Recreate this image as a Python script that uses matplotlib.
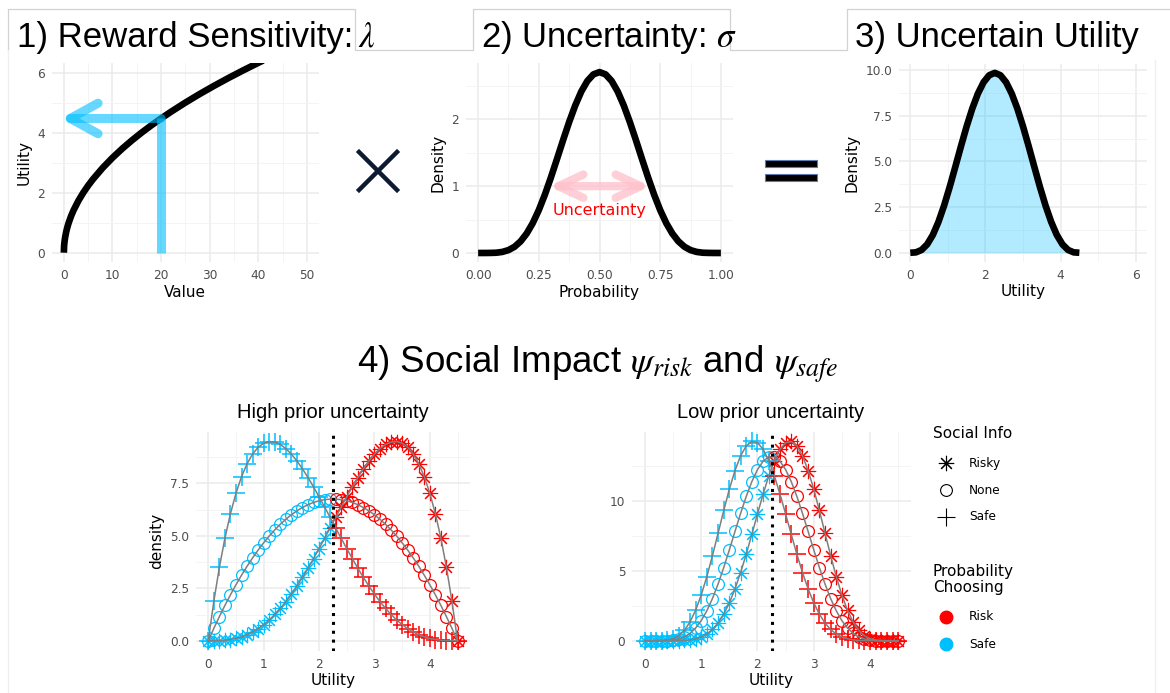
import numpy as np
import matplotlib.pyplot as plt
from matplotlib.patches import Rectangle

plt.rcParams['mathtext.fontset'] = 'stix'

W, H = 1170, 693

# ---- data -------------------------------------------------------------
# 1) reward sensitivity: utility of a value
value = [0, 0.05, 0.1, 0.25, 0.5, 0.75, 1, 1.5, 2, 3, 4, 5, 6, 8, 10, 12, 14,
         16, 18, 20, 22, 25, 28, 31, 34, 37, 40, 41]
utility_of_value = [0, 0.224, 0.316, 0.5, 0.707, 0.866, 1.0, 1.225, 1.414, 1.732,
                    2.0, 2.236, 2.449, 2.828, 3.162, 3.464, 3.742, 4.0, 4.243,
                    4.472, 4.690, 5.0, 5.292, 5.568, 5.831, 6.083, 6.325, 6.403]
example_value = 20
example_utility = 4.472

# 2) uncertainty about the probability
probability = [0, 0.025, 0.05, 0.075, 0.1, 0.125, 0.15, 0.175, 0.2, 0.225, 0.25,
               0.275, 0.3, 0.325, 0.35, 0.375, 0.4, 0.425, 0.45, 0.475, 0.5,
               0.525, 0.55, 0.575, 0.6, 0.625, 0.65, 0.675, 0.7, 0.725, 0.75,
               0.775, 0.8, 0.825, 0.85, 0.875, 0.9, 0.925, 0.95, 0.975, 1.0]
prob_density = [0, 0, 0.001, 0.004, 0.016, 0.043, 0.093, 0.174, 0.291, 0.447, 0.642,
                0.873, 1.132, 1.408, 1.689, 1.960, 2.207, 2.416, 2.574, 2.673, 2.707,
                2.673, 2.574, 2.416, 2.207, 1.960, 1.689, 1.408, 1.132, 0.873, 0.642,
                0.447, 0.291, 0.174, 0.093, 0.043, 0.016, 0.004, 0.001, 0, 0]
spread_lo, spread_hi, spread_level = 0.29, 0.71, 1.0

# 3) uncertain utility
utility3 = [0, 0.15, 0.3, 0.45, 0.6, 0.75, 0.9, 1.05, 1.2, 1.35, 1.5, 1.65, 1.8,
            1.95, 2.1, 2.25, 2.4, 2.55, 2.7, 2.85, 3.0, 3.15, 3.3, 3.45, 3.6,
            3.75, 3.9, 4.05, 4.2, 4.35, 4.5]
utility3_density = [0, 0.021, 0.152, 0.459, 0.972, 1.688, 2.580, 3.606, 4.711, 5.834,
                    6.914, 7.889, 8.709, 9.328, 9.713, 9.844, 9.713, 9.328, 8.709,
                    7.889, 6.914, 5.834, 4.711, 3.606, 2.580, 1.688, 0.972, 0.459,
                    0.152, 0.021, 0]

# 4) social impact
utility = [0.0, 0.1, 0.2, 0.3, 0.4, 0.5, 0.6, 0.7, 0.8, 0.9, 1.0, 1.1, 1.2, 1.3, 1.4,
           1.5, 1.6, 1.7, 1.8, 1.9, 2.0, 2.1, 2.2, 2.3, 2.4, 2.5, 2.6, 2.7, 2.8, 2.9,
           3.0, 3.1, 3.2, 3.3, 3.4, 3.5, 3.6, 3.7, 3.8, 3.9, 4.0, 4.1, 4.2, 4.3, 4.4, 4.5]
high_none = [0, 0.587, 1.147, 1.68, 2.187, 2.667, 3.12, 3.547, 3.947, 4.32, 4.667,
             4.987, 5.28, 5.547, 5.787, 6.0, 6.187, 6.347, 6.48, 6.587, 6.667, 6.72,
             6.747, 6.747, 6.72, 6.667, 6.587, 6.48, 6.347, 6.187, 6.0, 5.787, 5.547,
             5.28, 4.987, 4.667, 4.32, 3.947, 3.547, 3.12, 2.667, 2.187, 1.68, 1.147,
             0.587, 0]
high_safe = [0, 1.870, 3.490, 4.878, 6.051, 7.023, 7.812, 8.430, 8.894, 9.216, 9.410,
             9.489, 9.465, 9.349, 9.154, 8.889, 8.565, 8.191, 7.776, 7.329, 6.859,
             6.372, 5.875, 5.375, 4.878, 4.390, 3.914, 3.456, 3.019, 2.607, 2.222,
             1.867, 1.543, 1.252, 0.993, 0.768, 0.576, 0.416, 0.286, 0.185, 0.110,
             0.058, 0.025, 0.008, 0.001, 0]
high_risky = [0, 0.001, 0.008, 0.025, 0.058, 0.110, 0.185, 0.286, 0.416, 0.576, 0.768,
              0.993, 1.252, 1.543, 1.867, 2.222, 2.607, 3.019, 3.456, 3.914, 4.390,
              4.878, 5.375, 5.875, 6.372, 6.859, 7.329, 7.776, 8.191, 8.565, 8.889,
              9.154, 9.349, 9.465, 9.489, 9.410, 9.216, 8.894, 8.430, 7.812, 7.023,
              6.051, 4.878, 3.490, 1.870, 0]
low_none = [0, 0, 0, 0.003, 0.015, 0.050, 0.129, 0.278, 0.527, 0.907, 1.441, 2.145,
            3.023, 4.063, 5.239, 6.510, 7.823, 9.118, 10.330, 11.393, 12.248, 12.850,
            13.158, 13.158, 12.850, 12.248, 11.393, 10.330, 9.118, 7.823, 6.510, 5.239,
            4.063, 3.023, 2.145, 1.441, 0.907, 0.527, 0.278, 0.129, 0.050, 0.015,
            0.003, 0, 0, 0]
low_safe = [0, 0, 0.001, 0.010, 0.047, 0.149, 0.362, 0.743, 1.337, 2.177, 3.269, 4.593,
            6.097, 7.704, 9.323, 10.849, 12.183, 13.238, 13.945, 14.262, 14.176,
            13.706, 12.890, 11.793, 10.494, 9.073, 7.616, 6.198, 4.880, 3.709, 2.712,
            1.901, 1.272, 0.806, 0.481, 0.267, 0.136, 0.062, 0.025, 0.009, 0.002,
            0, 0, 0, 0, 0]
low_risky = [0, 0, 0, 0, 0, 0.002, 0.009, 0.025, 0.062, 0.136, 0.267, 0.481, 0.806,
             1.272, 1.901, 2.712, 3.709, 4.880, 6.198, 7.616, 9.073, 10.494, 11.793,
             12.890, 13.706, 14.176, 14.262, 13.945, 13.238, 12.183, 10.849, 9.323,
             7.704, 6.097, 4.593, 3.269, 2.177, 1.337, 0.743, 0.362, 0.149, 0.047,
             0.010, 0.001, 0, 0]
social_info = ['Risky', 'None', 'Safe']
choosing = ['Risk', 'Safe']
choice_cut = 2.25

SAFE_COL = '#00bfff'
RISK_COL = '#ff0000'


def px_axes(l, t, r, b):
    # place an axes by its pixel box in the 1170x693 picture
    return fig.add_axes([l / W, 1 - b / H, (r - l) / W, (b - t) / H])


def minimal(ax, xmaj, xmin, ymaj, ymin, xlab=None, ylab=None):
    ax.set_xticks(xmaj)
    ax.set_xticks(xmin, minor=True)
    ax.set_yticks(ymaj)
    ax.set_yticks(ymin, minor=True)
    ax.grid(which='major', color='#ebebeb', lw=1.1)
    ax.grid(which='minor', color='#f2f2f2', lw=0.6)
    ax.set_axisbelow(True)
    for s in ax.spines.values():
        s.set_visible(False)
    ax.tick_params(which='both', length=0, labelsize=8.7, labelcolor='#4d4d4d', pad=5)
    if xlab:
        ax.set_xlabel(xlab, fontsize=11, labelpad=2)
    if ylab:
        ax.set_ylabel(ylab, fontsize=11, labelpad=4)


fig = plt.figure(figsize=(W / 100, H / 100), dpi=100)

# ---- panel 1 ----
ax1 = px_axes(51.7, 63, 319, 262)
ax1.plot(value, utility_of_value, color='black', lw=4.8, solid_capstyle='butt')
ax1.plot([example_value, example_value], [0, example_utility], color=SAFE_COL,
         alpha=0.6, lw=6.5, solid_capstyle='butt')
ax1.annotate('', xy=(-0.6, example_utility), xytext=(example_value, example_utility),
             arrowprops=dict(arrowstyle='->,head_length=1.0,head_width=0.55',
                             color=SAFE_COL, alpha=0.6, lw=6.5, shrinkA=0, shrinkB=0,
                             mutation_scale=20))
ax1.set_xlim(-2.5, 52.5)
ax1.set_ylim(-0.31, 6.32)
minimal(ax1, range(0, 51, 10), range(5, 50, 10), [0, 2, 4, 6], [1, 3, 5],
        'Value', 'Utility')

# ---- panel 2 ----
ax2 = px_axes(466, 63, 733, 262)
ax2.plot(probability, prob_density, color='black', lw=4.8, solid_capstyle='butt')
ax2.annotate('', xy=(spread_lo, spread_level), xytext=(spread_hi, spread_level),
             arrowprops=dict(arrowstyle='<->,head_length=0.9,head_width=0.42',
                             color='#ffc0cb', alpha=0.75, lw=6, shrinkA=0, shrinkB=0,
                             mutation_scale=20))
ax2.text(0.5, 0.64, 'Uncertainty', color='red', fontsize=11.5, ha='center', va='center')
ax2.set_xlim(-0.05, 1.05)
ax2.set_ylim(-0.135, 2.843)
minimal(ax2, [0, 0.25, 0.5, 0.75, 1.0], [0.125, 0.375, 0.625, 0.875], [0, 1, 2],
        [0.5, 1.5, 2.5], 'Probability', 'Density')
ax2.set_xticklabels(['0.00', '0.25', '0.50', '0.75', '1.00'])

# ---- panel 3 ----
ax3 = px_axes(899, 63.8, 1147, 261.7)
ax3.fill_between(utility3, utility3_density, color=SAFE_COL, alpha=0.3, lw=0)
ax3.plot(utility3, utility3_density, color='black', lw=4.8, solid_capstyle='butt')
ax3.set_xlim(-0.3, 6.3)
ax3.set_ylim(-0.49, 10.34)
minimal(ax3, [0, 2, 4, 6], [1, 3, 5], [0, 2.5, 5, 7.5, 10], [1.25, 3.75, 6.25, 8.75],
        'Utility', 'Density')
ax3.set_yticklabels(['0.0', '2.5', '5.0', '7.5', '10.0'])

# ---- panel 4 (two facets) ----
marker_style = {
    'Risky': dict(marker=(8, 2, 0), ms=11, mew=0.8),
    'None': dict(marker='o', ms=8.5, mew=0.9, mfc='none'),
    'Safe': dict(marker='+', ms=13, mew=1.1),
}
u = np.array(utility)
left = u < choice_cut

ax4 = px_axes(195.8, 431.6, 470, 650.7)
ax5 = px_axes(632.3, 431.6, 910.8, 650.7)
for ax, series in [(ax4, [high_risky, high_none, high_safe]),
                   (ax5, [low_risky, low_none, low_safe])]:
    for name, dens in zip(social_info, series):
        dens = np.array(dens)
        for mask, col in [(left, SAFE_COL), (~left, RISK_COL)]:
            ax.plot(u[mask], dens[mask], ls='none', color=col, mec=col, zorder=2,
                    **marker_style[name])
        ax.plot(u, dens, color='#7f7f7f', lw=1.1, zorder=3)
    ax.axvline(choice_cut, color='black', lw=2.2, ls=(0, (1, 1.9)), zorder=4)
    ax.set_xlim(-0.225, 4.725)

ax4.set_ylim(-0.474, 9.963)
minimal(ax4, [0, 1, 2, 3, 4], [0.5, 1.5, 2.5, 3.5, 4.5], [0, 2.5, 5, 7.5],
        [1.25, 3.75, 6.25, 8.75], 'Utility', 'density')
ax4.set_yticklabels(['0.0', '2.5', '5.0', '7.5'])
ax5.set_ylim(-0.713, 14.97)
minimal(ax5, [0, 1, 2, 3, 4], [0.5, 1.5, 2.5, 3.5, 4.5], [0, 5, 10],
        [2.5, 7.5, 12.5], 'Utility')

# ---- overlay: titles, frames, operators, legend ----
ov = fig.add_axes([0, 0, 1, 1])
ov.set_xlim(0, W)
ov.set_ylim(H, 0)
ov.axis('off')

ov.plot([8, 8, 355, 355, 473, 473, 730, 730, 847, 847, 1170],
        [50, 9, 9, 50, 50, 9, 9, 50, 50, 9, 9], color='#d2d2d2', lw=0.9)
ov.plot([8, 8], [50, 693], color='#efefef', lw=0.9)
ov.plot([1155, 1155], [60, 693], color='#efefef', lw=0.9)

title_font = dict(fontsize=25, family='Liberation Sans', va='baseline')
ov.text(17, 46.5, '1) Reward Sensitivity:', **title_font)
ov.text(358, 46.5, r'$\lambda$', **title_font)
ov.text(481, 46.5, r'2) Uncertainty: $\sigma$', **title_font)
ov.text(855, 46.5, '3) Uncertain Utility', **title_font)
ov.text(598, 373, r'4) Social Impact $\psi_{risk}$ and $\psi_{safe}$', ha='center',
        fontsize=26.5, family='Liberation Sans', va='baseline')
ov.text(333, 418, 'High prior uncertainty', ha='center', fontsize=14.5,
        family='Liberation Sans', va='baseline')
ov.text(771, 418, 'Low prior uncertainty', ha='center', fontsize=14.5,
        family='Liberation Sans', va='baseline')

# multiplication and equals signs
ov.plot([359, 397], [152, 190], color='#0d1a33', lw=3.2)
ov.plot([359, 397], [190, 152], color='#0d1a33', lw=3.2)
for top in (160, 174):
    ov.add_patch(Rectangle((765, top), 52, 7, fc='black', ec='#5b7db5', lw=0.8))

# legend
ov.text(933, 433, 'Social Info', fontsize=11, va='center')
for i, name in enumerate(social_info):
    y = 463 + 27 * i
    st = dict(marker_style[name])
    st['mew'] = 0.8
    ov.plot([946], [y], ls='none', color='black', mec='black', **st)
    ov.text(969, y, name, fontsize=8.7, va='center')
ov.text(933, 579.5, 'Probability\nChoosing', fontsize=11, va='center', linespacing=1.05)
for i, (name, col) in enumerate(zip(choosing, [RISK_COL, SAFE_COL])):
    y = 617 + 27 * i
    ov.plot([946], [y], ls='none', marker='o', ms=9, color=col)
    ov.text(969, y, name, fontsize=8.7, va='center')

fig.savefig('out.png', dpi=100)
